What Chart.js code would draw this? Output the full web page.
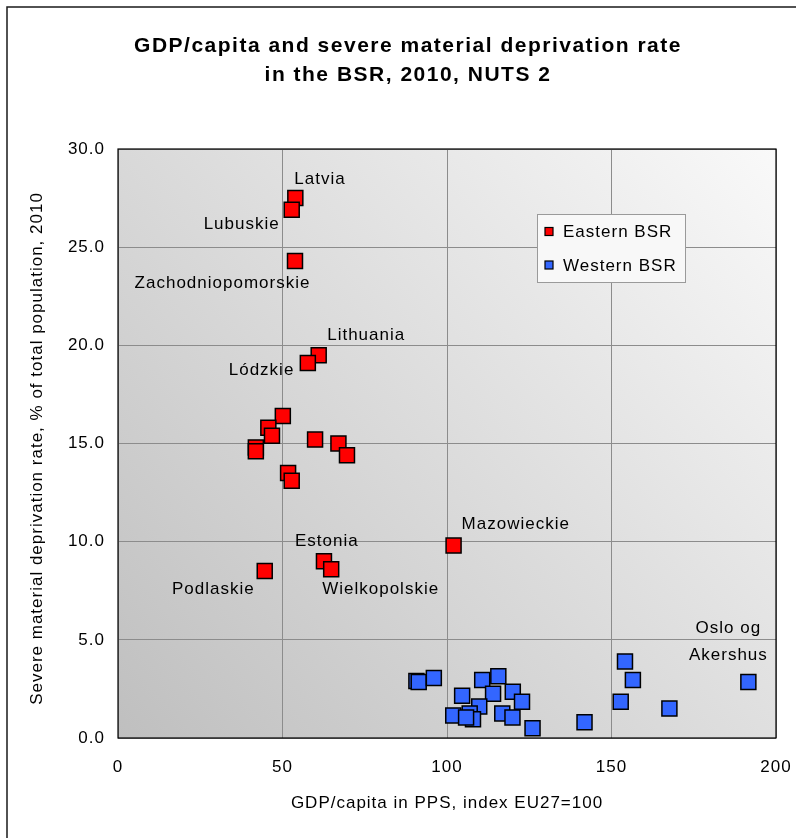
<!DOCTYPE html>
<html>
<head>
<meta charset="utf-8">
<script src="https://cdn.jsdelivr.net/npm/chart.js@4.4.1/dist/chart.umd.min.js"></script>
<style>
  html, body { margin: 0; padding: 0; background: #ffffff; }
  #wrap { width: 796px; height: 838px; }
</style>
</head>
<body>
<div id="wrap"><canvas id="chart" width="796" height="838"></canvas></div>
<script>
// ---- Text ----
const titleLines = ['GDP/capita and severe material deprivation rate', 'in the BSR, 2010, NUTS 2'];
const xAxisTitle = 'GDP/capita in PPS, index EU27=100';
const yAxisTitle = 'Severe material deprivation rate, % of total population, 2010';
const seriesNames = ['Eastern BSR', 'Western BSR'];

// ---- Tick values ----
const xTicks = [0, 50, 100, 150, 200];
const yTicks = [0, 5, 10, 15, 20, 25, 30];

// ---- Eastern BSR regions ----
const easternNames = ['Latvia', 'Lubuskie', 'Zachodniopomorskie', 'Lithuania', 'Lódzkie',
  '', '', '', '', '', '', '', '', '', '',
  'Mazowieckie', 'Estonia', 'Wielkopolskie', 'Podlaskie'];
const easternGdp = [53.9, 52.8, 53.8, 61.0, 57.7,
  50.1, 45.7, 46.8, 41.9, 41.9, 59.9, 67.0, 69.6, 51.7, 52.8,
  102.0, 62.6, 64.8, 44.6];
const easternRate = [27.5, 26.9, 24.3, 19.5, 19.1,
  16.4, 15.8, 15.4, 14.8, 14.6, 15.2, 15.0, 14.4, 13.5, 13.1,
  9.8, 9.0, 8.6, 8.5];

// ---- Western BSR regions ----
const westernNames = ['', '', '', '', '', '', '', '', '', '', '', '', '', '', '', '', '', '', '', '', '', '',
  'Oslo og\nAkershus'];
const westernGdp = [90.7, 91.4, 96.0, 104.6, 110.7, 115.6, 114.0, 120.0, 122.8, 109.8,
  101.9, 106.9, 107.9, 105.8, 116.8, 119.9, 126.0, 141.8, 152.8, 154.1, 156.5, 167.6, 191.6];
const westernRate = [2.9, 2.85, 3.05, 2.15, 2.95, 3.15, 2.25, 2.35, 1.85, 1.6,
  1.15, 1.25, 0.95, 1.05, 1.25, 1.05, 0.5, 0.8, 1.85, 3.9, 2.95, 1.5, 2.85];

// ---- Styling ----
const FONT = '"Liberation Sans", Arial, sans-serif';
const colors = { eastern: '#ff0000', western: '#3366ff', grid: '#8c8c8c' };

// Where each region name sits relative to its marker (pixels, baseline of first line)
const labelPlacement = {
  'Latvia':             { dx: -1,    dy: -14.5, align: 'left' },
  'Lubuskie':           { dx: -12,   dy: 19,    align: 'right' },
  'Zachodniopomorskie': { dx: -72.5, dy: 27.5,  align: 'center' },
  'Lithuania':          { dx: 8.5,   dy: -15,   align: 'left' },
  'Lódzkie':            { dx: -13.5, dy: 12,    align: 'right' },
  'Mazowieckie':        { dx: 8,     dy: -17,   align: 'left' },
  'Estonia':            { dx: -29,   dy: -15.5, align: 'left' },
  'Wielkopolskie':      { dx: -9,    dy: 24.5,  align: 'left' },
  'Podlaskie':          { dx: -10,   dy: 22.5,  align: 'right' },
  'Oslo og\nAkershus':  { dx: -20,   dy: -49.5, align: 'center', lineGap: 27.3 }
};

function toPoints(xs, ys, names) {
  return xs.map((x, i) => ({ x: x, y: ys[i], name: names[i] }));
}

const decor = {
  id: 'decor',
  beforeUpdate(chart) { chart.ctx.letterSpacing = '1px'; },
  beforeDraw(chart) {
    const { ctx, chartArea: a } = chart;
    ctx.letterSpacing = '1px';
    ctx.save();
    ctx.fillStyle = '#ffffff';
    ctx.fillRect(0, 0, chart.width, chart.height);
    // outer frame of the figure
    ctx.strokeStyle = '#1a1a1a';
    ctx.lineWidth = 1.5;
    ctx.strokeRect(7, 7, chart.width + 40, chart.height + 40);
    // plot background shading
    const g = ctx.createLinearGradient(a.left, a.bottom, a.right, a.top);
    g.addColorStop(0, '#bfbfbf');
    g.addColorStop(1, '#f9f9f9');
    ctx.fillStyle = g;
    ctx.fillRect(a.left, a.top, a.right - a.left, a.bottom - a.top);
    ctx.restore();
  },
  beforeDatasetsDraw(chart) {
    const { ctx, chartArea: a } = chart;
    ctx.save();
    ctx.strokeStyle = '#000000';
    ctx.lineWidth = 1.2;
    ctx.strokeRect(a.left, a.top, a.right - a.left, a.bottom - a.top);
    ctx.restore();
  },
  afterDraw(chart) {
    const { ctx, chartArea: a } = chart;
    ctx.save();
    ctx.fillStyle = '#000000';

    // title
    ctx.letterSpacing = '1.5px';
    ctx.font = 'bold 21px ' + FONT;
    ctx.textAlign = 'center';
    ctx.textBaseline = 'alphabetic';
    ctx.fillText(titleLines[0], 408, 52);
    ctx.fillText(titleLines[1], 408, 81);

    // axis titles
    ctx.letterSpacing = '1px';
    ctx.font = '17px ' + FONT;
    ctx.fillText(xAxisTitle, (a.left + a.right) / 2, 808);
    ctx.save();
    ctx.translate(41.5, 448.5);
    ctx.rotate(-Math.PI / 2);
    ctx.fillText(yAxisTitle, 0, 0);
    ctx.restore();

    // region names next to their markers
    chart.data.datasets.forEach((ds, di) => {
      const meta = chart.getDatasetMeta(di);
      ds.data.forEach((p, i) => {
        const place = labelPlacement[p.name];
        if (!p.name || !place) return;
        const el = meta.data[i];
        ctx.textAlign = place.align;
        p.name.split('\n').forEach((line, k) => {
          ctx.fillText(line, el.x + place.dx, el.y + place.dy + k * (place.lineGap || 0));
        });
      });
    });

    // legend box
    const lx = 537, ly = 214, lw = 148, lh = 68;
    ctx.fillStyle = '#f8f8f8';
    ctx.fillRect(lx, ly, lw, lh);
    ctx.strokeStyle = '#9a9a9a';
    ctx.lineWidth = 1;
    ctx.strokeRect(lx + 0.5, ly + 0.5, lw, lh);
    const items = [
      { name: seriesNames[0], color: colors.eastern, y: 231.5 },
      { name: seriesNames[1], color: colors.western, y: 265 }
    ];
    ctx.textAlign = 'left';
    ctx.textBaseline = 'middle';
    items.forEach(it => {
      ctx.fillStyle = it.color;
      ctx.fillRect(545, it.y - 4, 8, 8);
      ctx.strokeStyle = '#000000';
      ctx.lineWidth = 1.2;
      ctx.strokeRect(545, it.y - 4, 8, 8);
      ctx.fillStyle = '#000000';
      ctx.fillText(it.name, 563, it.y + 1);
    });
    ctx.restore();
  }
};

const tickFont = { family: FONT, size: 17 };

new Chart(document.getElementById('chart'), {
  type: 'scatter',
  data: {
    datasets: [
      {
        label: seriesNames[0],
        data: toPoints(easternGdp, easternRate, easternNames),
        backgroundColor: colors.eastern,
        borderColor: '#000000',
        borderWidth: 1.5,
        pointStyle: 'rect',
        pointRadius: 10.6,
        pointHoverRadius: 10.6
      },
      {
        label: seriesNames[1],
        data: toPoints(westernGdp, westernRate, westernNames),
        backgroundColor: colors.western,
        borderColor: '#000000',
        borderWidth: 1.5,
        pointStyle: 'rect',
        pointRadius: 10.6,
        pointHoverRadius: 10.6
      }
    ]
  },
  options: {
    responsive: false,
    animation: false,
    events: [],
    layout: { padding: { left: 18, right: 20, top: 149, bottom: 0 } },
    plugins: {
      legend: { display: false },
      title: { display: false },
      tooltip: { enabled: false }
    },
    scales: {
      x: {
        type: 'linear',
        min: xTicks[0],
        max: xTicks[xTicks.length - 1],
        afterBuildTicks: s => { s.ticks = xTicks.map(v => ({ value: v })); },
        afterFit: s => { s.height = 100; s.paddingLeft = 0; s.paddingRight = 0; },
        grid: { color: colors.grid, lineWidth: 1, drawTicks: false },
        border: { display: false },
        ticks: { padding: 19, color: '#000000', font: tickFont, callback: v => String(v) }
      },
      y: {
        type: 'linear',
        min: yTicks[0],
        max: yTicks[yTicks.length - 1],
        afterBuildTicks: s => { s.ticks = yTicks.map(v => ({ value: v })); },
        afterFit: s => { s.width = 100; s.paddingTop = 0; s.paddingBottom = 0; },
        grid: { color: colors.grid, lineWidth: 1, drawTicks: false },
        border: { display: false },
        ticks: { padding: 13, color: '#000000', font: tickFont, callback: v => v.toFixed(1) }
      }
    }
  },
  plugins: [decor]
});
</script>
</body>
</html>
